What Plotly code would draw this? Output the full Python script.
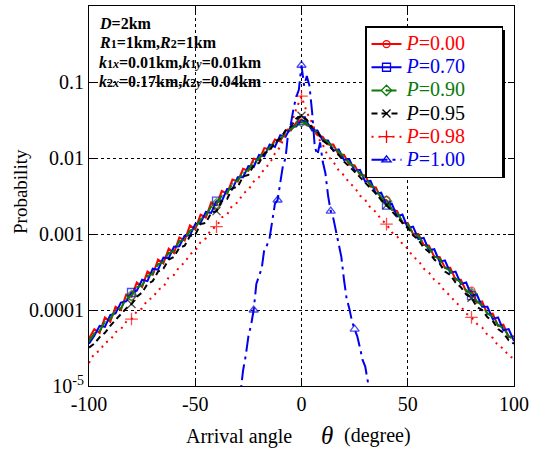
import plotly.graph_objects as go

# ---------------- data ----------------
theta = [-100 + 2.5 * i for i in range(81)]          # arrival angle grid (deg)
theta_p100 = [-30 + 1.25 * i for i in range(51)]     # grid for P=1.00

p000 = [4.2e-5, 5.6e-5, 5.0e-5, 8.0e-5, 7.0e-5, 1.1e-4, 1.0e-4, 1.6e-4, 1.5e-4, 2.3e-4,
        2.0e-4, 3.2e-4, 2.9e-4, 4.6e-4, 4.1e-4, 6.4e-4, 5.6e-4, 9.0e-4, 8.2e-4, 1.3e-3,
        1.15e-3, 1.8e-3, 1.65e-3, 2.6e-3, 2.4e-3, 3.7e-3, 3.4e-3, 5.2e-3, 4.9e-3, 7.2e-3,
        6.8e-3, 9.8e-3, 9.4e-3, 1.35e-2, 1.3e-2, 1.75e-2, 1.65e-2, 2.3e-2, 2.3e-2, 2.9e-2,
        3.2e-2,
        2.7e-2, 2.6e-2, 2.0e-2, 1.9e-2, 1.5e-2, 1.5e-2, 1.1e-2, 1.1e-2, 8.2e-3, 8.0e-3,
        6.0e-3, 5.9e-3, 4.2e-3, 4.1e-3, 2.9e-3, 2.8e-3, 2.1e-3, 2.0e-3, 1.4e-3, 1.4e-3,
        1.0e-3, 1.0e-3, 7.2e-4, 7.0e-4, 5.0e-4, 5.0e-4, 3.6e-4, 3.6e-4, 2.5e-4, 2.5e-4,
        1.75e-4, 1.8e-4, 1.25e-4, 1.3e-4, 8.8e-5, 9.0e-5, 6.2e-5, 6.4e-5, 4.4e-5, 4.5e-5]

p070 = [3.6e-5, 4.6e-5, 6.2e-5, 6.0e-5, 8.6e-5, 9.0e-5, 1.25e-4, 1.3e-4, 1.7e-4, 1.8e-4,
        2.5e-4, 2.4e-4, 3.5e-4, 3.4e-4, 4.9e-4, 4.8e-4, 6.8e-4, 6.9e-4, 9.5e-4, 9.6e-4,
        1.35e-3, 1.4e-3, 1.95e-3, 1.9e-3, 2.7e-3, 2.7e-3, 3.9e-3, 3.9e-3, 5.6e-3, 5.6e-3,
        7.8e-3, 7.6e-3, 1.1e-2, 1.05e-2, 1.5e-2, 1.4e-2, 2.0e-2, 1.9e-2, 2.6e-2, 2.6e-2,
        3.1e-2,
        3.0e-2, 2.3e-2, 2.3e-2, 1.7e-2, 1.7e-2, 1.25e-2, 1.3e-2, 9.4e-3, 9.6e-3, 6.8e-3,
        7.0e-3, 4.9e-3, 5.0e-3, 3.4e-3, 3.5e-3, 2.4e-3, 2.5e-3, 1.7e-3, 1.8e-3, 1.2e-3,
        1.25e-3, 8.6e-4, 8.9e-4, 6.1e-4, 6.3e-4, 4.3e-4, 4.5e-4, 3.1e-4, 3.2e-4, 2.2e-4,
        2.3e-4, 1.55e-4, 1.6e-4, 1.1e-4, 1.1e-4, 7.6e-5, 8.0e-5, 5.4e-5, 5.6e-5, 3.9e-5]

p090 = [3.9e-5, 4.9e-5, 5.3e-5, 7.0e-5, 7.6e-5, 1.0e-4, 1.05e-4, 1.4e-4, 1.55e-4, 2.0e-4,
        2.1e-4, 2.8e-4, 3.0e-4, 4.0e-4, 4.3e-4, 5.6e-4, 6.0e-4, 8.0e-4, 8.5e-4, 1.1e-3,
        1.2e-3, 1.55e-3, 1.75e-3, 2.3e-3, 2.5e-3, 3.2e-3, 3.5e-3, 4.6e-3, 5.1e-3, 6.4e-3,
        7.0e-3, 8.8e-3, 9.8e-3, 1.2e-2, 1.35e-2, 1.6e-2, 1.75e-2, 2.1e-2, 2.4e-2, 2.7e-2,
        3.0e-2,
        2.8e-2, 2.4e-2, 2.15e-2, 1.8e-2, 1.6e-2, 1.4e-2, 1.2e-2, 1.05e-2, 8.6e-3, 7.6e-3,
        6.2e-3, 5.6e-3, 4.4e-3, 3.9e-3, 3.0e-3, 2.7e-3, 2.1e-3, 1.9e-3, 1.45e-3, 1.35e-3,
        1.0e-3, 9.4e-4, 7.2e-4, 6.6e-4, 5.1e-4, 4.7e-4, 3.6e-4, 3.3e-4, 2.6e-4, 2.3e-4,
        1.8e-4, 1.65e-4, 1.3e-4, 1.15e-4, 9.0e-5, 8.2e-5, 6.3e-5, 5.8e-5, 4.5e-5, 4.1e-5]

p095 = [3.2e-5, 3.6e-5, 4.4e-5, 5.0e-5, 6.2e-5, 7.4e-5, 8.6e-5, 1.05e-4, 1.2e-4, 1.5e-4,
        1.7e-4, 2.2e-4, 2.4e-4, 3.2e-4, 3.5e-4, 4.6e-4, 5.0e-4, 6.6e-4, 7.0e-4, 9.4e-4,
        9.8e-4, 1.35e-3, 1.4e-3, 1.9e-3, 2.0e-3, 2.7e-3, 2.9e-3, 4.0e-3, 4.2e-3, 5.7e-3,
        6.0e-3, 8.0e-3, 8.6e-3, 1.15e-2, 1.25e-2, 1.6e-2, 1.8e-2, 2.3e-2, 2.6e-2, 3.3e-2,
        3.6e-2,
        3.2e-2, 2.5e-2, 2.2e-2, 1.7e-2, 1.5e-2, 1.25e-2, 1.1e-2, 9.0e-3, 7.8e-3, 6.6e-3,
        5.6e-3, 4.8e-3, 4.0e-3, 3.4e-3, 2.8e-3, 2.4e-3, 2.0e-3, 1.7e-3, 1.4e-3, 1.2e-3,
        9.6e-4, 8.4e-4, 6.6e-4, 5.8e-4, 4.6e-4, 4.1e-4, 3.2e-4, 2.9e-4, 2.3e-4, 2.0e-4,
        1.6e-4, 1.45e-4, 1.1e-4, 1.0e-4, 8.0e-5, 7.2e-5, 5.6e-5, 5.0e-5, 4.0e-5, 3.6e-5]

p098 = [2.0e-5, 2.7e-5, 2.9e-5, 3.7e-5, 4.0e-5, 5.1e-5, 5.6e-5, 7.0e-5, 7.6e-5, 9.6e-5,
        1.05e-4, 1.35e-4, 1.45e-4, 1.85e-4, 2.0e-4, 2.7e-4, 2.9e-4, 3.7e-4, 4.2e-4, 5.4e-4,
        6.0e-4, 7.8e-4, 8.8e-4, 1.15e-3, 1.25e-3, 1.65e-3, 1.8e-3, 2.4e-3, 2.6e-3, 3.4e-3,
        3.8e-3, 4.9e-3, 5.6e-3, 7.2e-3, 8.4e-3, 1.15e-2, 1.4e-2, 2.1e-2, 2.7e-2, 4.4e-2,
        6.5e-2,
        4.0e-2, 2.9e-2, 1.9e-2, 1.5e-2, 1.05e-2, 8.9e-3, 6.9e-3, 5.9e-3, 4.7e-3, 4.1e-3,
        3.2e-3, 2.8e-3, 2.2e-3, 1.95e-3, 1.55e-3, 1.35e-3, 1.05e-3, 9.3e-4, 7.4e-4, 6.4e-4,
        5.0e-4, 4.5e-4, 3.5e-4, 3.1e-4, 2.5e-4, 2.2e-4, 1.75e-4, 1.55e-4, 1.25e-4, 1.12e-4,
        9.0e-5, 8.0e-5, 6.6e-5, 5.9e-5, 4.7e-5, 4.3e-5, 3.4e-5, 3.1e-5, 2.5e-5, 2.3e-5]

p100 = [5.0e-6, 7.9e-6, 1.6e-5, 2.5e-5, 4.5e-5, 6.3e-5, 1.0e-4, 2.2e-4, 2.8e-4, 3.5e-4,
        6.3e-4, 7.1e-4, 8.9e-4, 1.4e-3, 2.5e-3, 2.8e-3, 4.5e-3, 7.9e-3, 1.0e-2, 2.2e-2,
        2.8e-2, 4.5e-2, 6.3e-2, 7.9e-2,
        1.66e-1,
        8.9e-2, 1.2e-1, 8.9e-2, 4.0e-2, 1.4e-2, 1.1e-2, 1.6e-2, 8.9e-3, 6.3e-3, 3.2e-3,
        2.0e-3, 1.6e-3, 1.1e-3, 7.9e-4, 5.0e-4, 2.5e-4, 1.4e-4, 1.05e-4, 7.1e-5, 5.6e-5,
        4.5e-5, 3.2e-5, 2.2e-5, 1.8e-5, 1.1e-5, 7.1e-6]

series_labels = ["0.00", "0.70", "0.90", "0.95", "0.98", "1.00"]
x_tickvals = [-100, -50, 0, 50, 100]
x_ticktext = ["-100", "-50", "0", "50", "100"]
y_tickvals = [1, 0.1, 0.01, 0.001, 0.0001, 0.00001]
y_ticktext = ["1", "0.1", "0.01", "0.001", "0.0001", "10<sup>-5</sup>"]

# ---------------- styling ----------------
RED = "#ff0000"
BLUE = "#0000ee"
GREEN = "#0b7a0b"
BLACK = "#000000"
SERIF = "'Liberation Serif', 'Times New Roman', serif"

mark_broad = [-80, -40, 0, 40, 80]
mark_p100 = [-22.5, -11.25, 0, 13.75, 25]

styles = [
    (theta, p000, RED, "solid", "circle-open", 7, mark_broad),
    (theta, p070, BLUE, "solid", "square-open", 8, mark_broad),
    (theta, p090, GREEN, "10px,5px", "diamond-open-dot", 8, mark_broad),
    (theta, p095, BLACK, "6px,4px", "x-thin-open", 8, mark_broad),
    (theta, p098, RED, "2px,5px", "cross-thin-open", 9, mark_broad),
    (theta_p100, p100, BLUE, "16px,5px,3px,5px", "triangle-up-open", 8, mark_p100),
]

NB = "\u00a0" * 6
fig = go.Figure()
for lab, (xs, ys, col, dash, sym, msz, marks) in zip(series_labels, styles):
    sizes = [msz if x in marks else 0 for x in xs]
    fig.add_trace(go.Scatter(
        x=xs, y=ys, mode="lines+markers", showlegend=False,
        line=dict(color=col, width=2, dash=dash),
        marker=dict(symbol=sym, size=sizes, color=col, line=dict(color=col, width=1.3)),
    ))
    fig.add_trace(go.Scatter(
        x=[None], y=[None], mode="lines+markers",
        name=f"<span style='color:{col};font-size:20px'><i>P</i>=" + lab + NB + "</span>",
        line=dict(color=col, width=2, dash=dash),
        marker=dict(symbol=sym, size=msz, color=col, line=dict(color=col, width=1.3)),
    ))

L, R, T, B = 89, 30, 6, 64
W, H = 544, 450
pw, ph = W - L - R, H - T - B

def px(x):
    return (x - L) / pw

def py(y):
    return 1 - (y - T) / ph

# legend shadow
fig.add_shape(type="rect", xref="paper", yref="paper",
              x0=px(369), x1=px(505), y0=py(178), y1=py(30),
              fillcolor="black", line=dict(width=0), layer="above")

SUB = "<span style='font-size:12px'>"
ann_lines = [
    "<b><i>D</i>=2km</b>",
    f"<b><i>R</i>{SUB}1</span>=1km,<i>R</i>{SUB}2</span>=1km</b>",
    f"<b><i>k</i>{SUB}1<i>x</i></span>=0.01km,<i>k</i>{SUB}1<i>y</i></span>=0.01km</b>",
    f"<b><i>k</i>{SUB}2<i>x</i></span>=0.17km,<i>k</i>{SUB}2<i>y</i></span>=0.04km</b>",
]
for i, t in enumerate(ann_lines):
    fig.add_annotation(text=t, xref="paper", yref="paper", x=px(97), y=py(23 + 19.5 * i),
                       xanchor="left", yanchor="middle", showarrow=False,
                       font=dict(family=SERIF, size=16, color="black"))

# axis titles
fig.add_annotation(text="Arrival angle", xref="paper", yref="paper", x=px(239), y=py(436),
                   xanchor="center", yanchor="middle", showarrow=False,
                   font=dict(family=SERIF, size=20, color="black"))
fig.add_annotation(text="<i>θ</i>", xref="paper", yref="paper", x=px(327), y=py(435),
                   xanchor="center", yanchor="middle", showarrow=False,
                   font=dict(family=SERIF, size=25, color="black"))
fig.add_annotation(text="(degree)", xref="paper", yref="paper", x=px(377), y=py(435),
                   xanchor="center", yanchor="middle", showarrow=False,
                   font=dict(family=SERIF, size=20, color="black"))
fig.add_annotation(text="Probability", xref="paper", yref="paper", x=px(20), y=py(192),
                   xanchor="center", yanchor="middle", showarrow=False, textangle=-90,
                   font=dict(family=SERIF, size=19, color="black"))

axis_common = dict(showline=True, linecolor="black", linewidth=1.2, mirror="allticks",
                   ticks="inside", ticklen=6, tickcolor="black",
                   showgrid=True, gridcolor="black", gridwidth=1, griddash="dot",
                   zeroline=False, tickfont=dict(family=SERIF, size=20, color="black"))

fig.update_xaxes(range=[-100, 100], tickvals=x_tickvals, ticktext=x_ticktext, **axis_common)
fig.update_yaxes(type="log", range=[-5, 0], tickvals=y_tickvals, ticktext=y_ticktext,
                 **axis_common)

fig.update_layout(
    width=W, height=H, margin=dict(l=L, r=R, t=T, b=B),
    paper_bgcolor="white", plot_bgcolor="white",
    font=dict(family=SERIF, color="black"),
    legend=dict(x=px(365), y=py(26), xanchor="left", yanchor="top",
                bgcolor="white", bordercolor="black", borderwidth=1.5,
                font=dict(family=SERIF, size=15.5, color="black"),
                tracegroupgap=0),
)

fig.write_html("out.html")
